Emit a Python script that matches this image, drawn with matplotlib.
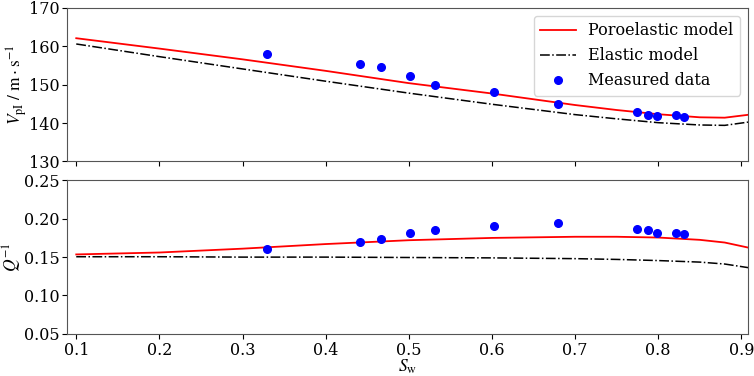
import matplotlib
matplotlib.use('Agg')
import matplotlib.pyplot as plt

plt.rcParams['font.family'] = 'DejaVu Serif'
plt.rcParams['mathtext.fontset'] = 'stix'

# Measured data points
sw_meas = [0.33, 0.441, 0.467, 0.501, 0.532, 0.602, 0.680, 0.774, 0.788, 0.799, 0.822, 0.831]
vp_meas = [157.9, 155.5, 154.5, 152.2, 150.0, 148.1, 144.9, 143.0, 142.1, 141.8, 142.1, 141.5]
q_meas = [0.160, 0.170, 0.173, 0.182, 0.185, 0.190, 0.195, 0.187, 0.185, 0.182, 0.182, 0.180]

# Model curves
sw_model = [0.10, 0.20, 0.30, 0.40, 0.50, 0.60, 0.70, 0.75, 0.80, 0.85, 0.88, 0.91]
vp_poro = [162.1, 159.4, 156.6, 153.6, 150.4, 147.7, 144.7, 143.4, 142.3, 141.5, 141.4, 142.2]
vp_elas = [160.6, 157.3, 154.1, 150.9, 147.8, 144.9, 142.2, 141.1, 140.1, 139.5, 139.4, 140.3]
q_poro = [0.1535, 0.156, 0.161, 0.167, 0.172, 0.175, 0.1765, 0.1765, 0.1755, 0.1725, 0.169, 0.162]
q_elas = [0.1505, 0.1505, 0.150, 0.150, 0.1495, 0.149, 0.148, 0.147, 0.1455, 0.1435, 0.141, 0.136]

fs = 11.5
lfs = 12.5

fig, (ax1, ax2) = plt.subplots(2, 1, figsize=(7.54, 3.76), dpi=100, sharex=True)
fig.subplots_adjust(left=0.089, right=0.992, top=0.979, bottom=0.112, hspace=0.123)

ax1.plot(sw_model, vp_poro, color='red', lw=1.3, label='Poroelastic model')
ax1.plot(sw_model, vp_elas, color='black', lw=1.1, ls='-.', label='Elastic model')
ax1.plot(sw_meas, vp_meas, 'o', color='blue', ms=5.5, label='Measured data')
ax1.set_ylim(130, 170)
ax1.set_yticks([130, 140, 150, 160, 170])
ax1.set_ylabel(r'$V_{\mathrm{pI}}\ /\ \mathrm{m \cdot s^{-1}}$', fontsize=lfs, labelpad=0)
ax1.legend(loc='upper right', fontsize=fs, handlelength=2.2, borderaxespad=0.5)

ax2.plot(sw_model, q_poro, color='red', lw=1.3)
ax2.plot(sw_model, q_elas, color='black', lw=1.1, ls='-.')
ax2.plot(sw_meas, q_meas, 'o', color='blue', ms=5.5)
ax2.set_ylim(0.05, 0.25)
ax2.set_yticks([0.05, 0.10, 0.15, 0.20, 0.25])
ax2.set_ylabel(r'$Q^{-1}$', fontsize=lfs, labelpad=0)
ax2.set_xlabel(r'$S_{\mathrm{w}}$', fontsize=lfs, labelpad=-1)
ax2.set_xlim(0.089, 0.908)
ax2.set_xticks([0.1, 0.2, 0.3, 0.4, 0.5, 0.6, 0.7, 0.8, 0.9])

for ax in (ax1, ax2):
    ax.tick_params(labelsize=fs, pad=2)
    for s in ax.spines.values():
        s.set_color('#555555')

fig.savefig('out.png')
